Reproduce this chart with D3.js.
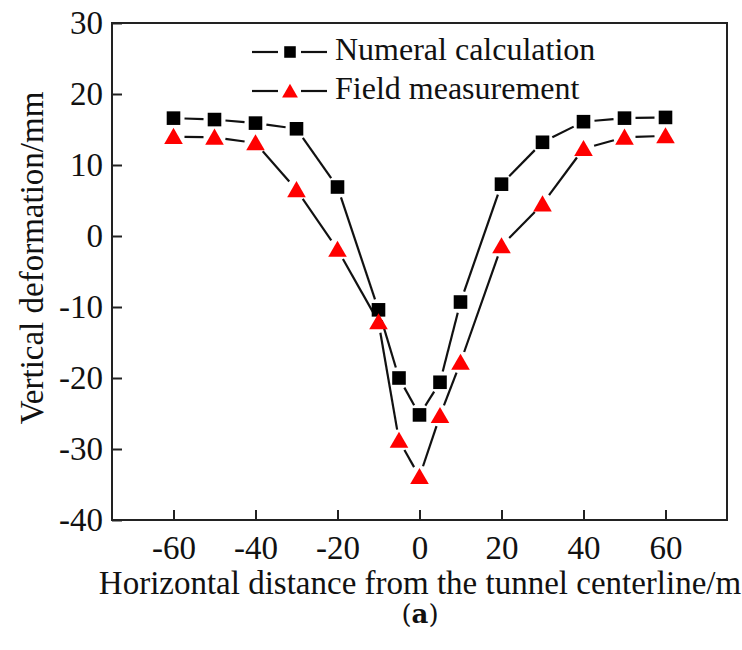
<!DOCTYPE html>
<html>
<head>
<meta charset="utf-8">
<script src="https://cdn.jsdelivr.net/npm/d3@7"></script>
<style>
  html, body { margin: 0; padding: 0; background: #fff; }
  svg { display: block; }
  text { font-family: "Liberation Serif", "Times New Roman", serif; fill: #111; }
</style>
</head>
<body>
<svg id="chart" width="742" height="650"></svg>
<script>
// Horizontal positions of the survey points (m)
const distances = [-60, -50, -40, -30, -20, -10, -5, 0, 5, 10, 20, 30, 40, 50, 60];
// Vertical deformation (mm)
const numeralCalc = [16.6, 16.4, 15.9, 15.1, 6.9, -10.4, -20.0, -25.2, -20.6, -9.3, 7.3, 13.2, 16.1, 16.6, 16.7];
const fieldMeas   = [14.0, 13.9, 13.1, 6.5, -1.9, -12.1, -28.8, -33.9, -25.3, -17.8, -1.4, 4.5, 12.3, 13.9, 14.1];
const seriesNames = ["Numeral calculation", "Field measurement"];
const xTicks = [-60, -40, -20, 0, 20, 40, 60];
const yTicks = [30, 20, 10, 0, -10, -20, -30, -40];

const svg = d3.select("#chart");
const plot = { left: 112, right: 727, top: 23, bottom: 520 };

const x = d3.scaleLinear().domain([-75, 75]).range([plot.left, plot.right]);
const y = d3.scaleLinear().domain([-40, 30]).range([plot.bottom, plot.top]);

// Axes with inward ticks
const xAxis = d3.axisBottom(x).tickValues(xTicks).tickSize(-10).tickPadding(16).tickFormat(d3.format("d"));
const yAxis = d3.axisLeft(y).tickValues(yTicks).tickSize(-10).tickPadding(9).tickFormat(d3.format("d"));

const gx = svg.append("g").attr("transform", `translate(0,${plot.bottom})`).call(xAxis);
const gy = svg.append("g").attr("transform", `translate(${plot.left},0)`).call(yAxis);
[gx, gy].forEach(g => {
  g.select(".domain").remove();
  g.selectAll(".tick line").attr("stroke", "#222").attr("stroke-width", 2);
  g.selectAll(".tick text")
    .style("font-family", "'Liberation Serif', 'Times New Roman', serif")
    .style("font-size", "33px").attr("fill", "#111")
    .text(d => d < 0 ? "-" + Math.abs(d) : d);
});

// Plot frame
svg.append("rect")
  .attr("x", plot.left).attr("y", plot.top)
  .attr("width", plot.right - plot.left).attr("height", plot.bottom - plot.top)
  .attr("fill", "none").attr("stroke", "#222").attr("stroke-width", 2);

// Connecting segments, trimmed so they stop short of the markers
function drawSegments(vals, gap) {
  const pts = distances.map((d, i) => [x(d), y(vals[i])]);
  const segs = [];
  for (let i = 0; i < pts.length - 1; i++) {
    const [x0, y0] = pts[i], [x1, y1] = pts[i + 1];
    const len = Math.hypot(x1 - x0, y1 - y0);
    if (len <= 2 * gap) continue;
    const ux = (x1 - x0) / len, uy = (y1 - y0) / len;
    segs.push([x0 + ux * gap, y0 + uy * gap, x1 - ux * gap, y1 - uy * gap]);
  }
  svg.append("g").selectAll("line").data(segs).join("line")
    .attr("x1", d => d[0]).attr("y1", d => d[1])
    .attr("x2", d => d[2]).attr("y2", d => d[3])
    .attr("stroke", "#111").attr("stroke-width", 2.2);
}
drawSegments(numeralCalc, 11);
drawSegments(fieldMeas, 11);

const square = d3.symbol().type(d3.symbolSquare).size(185);
const triangle = d3.symbol().type(d3.symbolTriangle).size(150);

svg.append("g").selectAll("path").data(distances).join("path")
  .attr("d", square)
  .attr("transform", (d, i) => `translate(${x(d)},${y(numeralCalc[i])})`)
  .attr("fill", "#000");

svg.append("g").selectAll("path").data(distances).join("path")
  .attr("d", triangle)
  .attr("transform", (d, i) => `translate(${x(d)},${y(fieldMeas[i]) + 2})`)
  .attr("fill", "#ff0000");

// Legend
const legend = svg.append("g");
const legendRows = [
  { name: seriesNames[0], sym: square, fill: "#000", cy: 52, dy: 0 },
  { name: seriesNames[1], sym: triangle, fill: "#ff0000", cy: 91, dy: 2 }
];
legendRows.forEach(r => {
  legend.append("line").attr("x1", 252).attr("x2", 278).attr("y1", r.cy).attr("y2", r.cy)
    .attr("stroke", "#111").attr("stroke-width", 2.2);
  legend.append("line").attr("x1", 301).attr("x2", 327).attr("y1", r.cy).attr("y2", r.cy)
    .attr("stroke", "#111").attr("stroke-width", 2.2);
  legend.append("path").attr("d", r.sym).attr("fill", r.fill)
    .attr("transform", `translate(290,${r.cy + r.dy}) scale(0.85)`);
  legend.append("text").attr("x", 335).attr("y", r.cy + 8)
    .style("font-size", "32px").text(r.name);
});

// Axis titles
svg.append("text")
  .attr("x", 420).attr("y", 594)
  .attr("text-anchor", "middle")
  .style("font-size", "33px")
  .text("Horizontal distance from the tunnel centerline/m");

svg.append("text")
  .attr("transform", "translate(43,258) rotate(-90)")
  .attr("text-anchor", "middle")
  .style("font-size", "33px")
  .text("Vertical deformation/mm");

// Panel label
const panel = svg.append("text")
  .attr("x", 420).attr("y", 623)
  .attr("text-anchor", "middle")
  .style("font-family", "'DejaVu Serif', 'Noto Sans', serif")
  .style("font-size", "26px");
panel.append("tspan").text("(");
panel.append("tspan").style("font-weight", "bold").text("a");
panel.append("tspan").text(")");
</script>
</body>
</html>
